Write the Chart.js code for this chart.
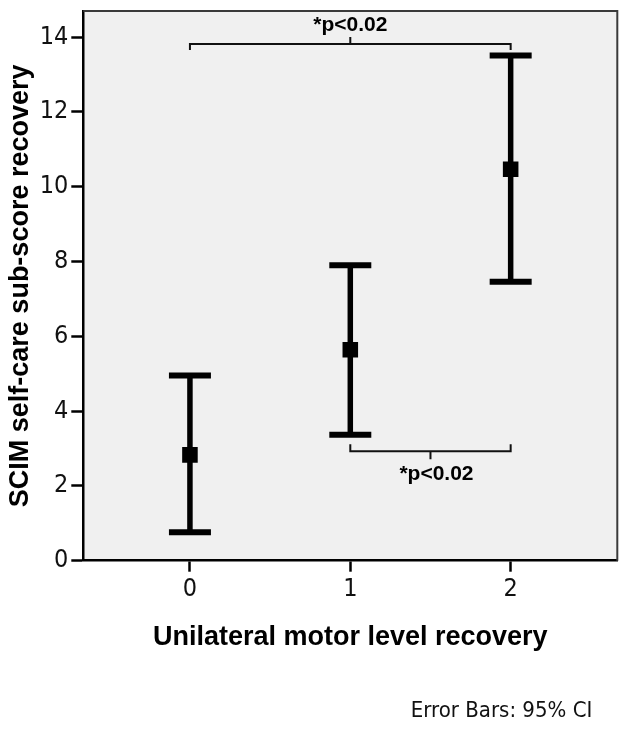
<!DOCTYPE html>
<html>
<head>
<meta charset="utf-8">
<script src="https://cdn.jsdelivr.net/npm/chart.js@4"></script>
<style>
  html, body { margin: 0; padding: 0; background: #fff; }
  #wrap { width: 639px; height: 733px; }
</style>
</head>
<body>
<div id="wrap"><canvas id="chart" width="639" height="733"></canvas></div>
<script>
/* data */
const groups = [0, 1, 2];
const groupLabels = ["0", "1", "2"];
const means = [2.83, 5.64, 10.47];
const lowerCI = [0.76, 3.37, 7.46];
const upperCI = [4.95, 7.90, 13.51];
const yTicks = [0, 2, 4, 6, 8, 10, 12, 14];

/* significance brackets: from group, to group, level, label */
const bracketFrom = [0, 1];
const bracketTo = [2, 2];
const bracketLevel = [13.82, 2.93];
const bracketLabel = ["*p<0.02", "*p<0.02"];

const narrow = "'Liberation Sans Narrow', 'Arial Narrow', 'DejaVu Sans Condensed', sans-serif";
const sans = "'Liberation Sans', Arial, sans-serif";

/* plot background + top/right frame */
const frame = {
    id: "frame",
    beforeDraw(chart) {
        const { ctx, chartArea: a } = chart;
        ctx.save();
        ctx.fillStyle = "#f0f0f0";
        ctx.fillRect(a.left, a.top, a.right - a.left, a.bottom - a.top);
        ctx.restore();
    },
    afterDraw(chart) {
        const { ctx, chartArea: a } = chart;
        ctx.save();
        ctx.strokeStyle = "#3a3a3a";
        ctx.lineWidth = 2;
        ctx.beginPath();
        ctx.moveTo(a.left, a.top);
        ctx.lineTo(a.right, a.top);
        ctx.lineTo(a.right, a.bottom);
        ctx.stroke();

        ctx.fillStyle = "#111";
        ctx.font = "22px " + narrow;
        ctx.textAlign = "right";
        ctx.textBaseline = "middle";
        ctx.fillText("Error Bars: 95% CI", a.right - 25, chart.height - 22);
        ctx.restore();
    }
};

/* 95% CI whiskers */
const errorBars = {
    id: "errorBars",
    beforeDatasetsDraw(chart) {
        const { ctx, scales: { x, y } } = chart;
        ctx.save();
        ctx.strokeStyle = "#000";
        ctx.lineCap = "butt";
        groups.forEach((g, i) => {
            const px = x.getPixelForValue(g);
            const lo = y.getPixelForValue(lowerCI[i]);
            const hi = y.getPixelForValue(upperCI[i]);
            ctx.lineWidth = 5.5;
            ctx.beginPath();
            ctx.moveTo(px, lo);
            ctx.lineTo(px, hi);
            ctx.stroke();
            ctx.lineWidth = 6;
            ctx.beginPath();
            ctx.moveTo(px - 21, lo); ctx.lineTo(px + 21, lo);
            ctx.moveTo(px - 21, hi); ctx.lineTo(px + 21, hi);
            ctx.stroke();
        });
        ctx.restore();
    }
};

/* brackets with p-value labels */
const brackets = {
    id: "brackets",
    afterDatasetsDraw(chart) {
        const { ctx, scales: { x, y } } = chart;
        ctx.save();
        ctx.strokeStyle = "#111";
        ctx.lineWidth = 2;
        ctx.fillStyle = "#000";
        ctx.font = "bold 21px " + sans;
        ctx.textAlign = "center";
        ctx.textBaseline = "alphabetic";
        bracketFrom.forEach((f, i) => {
            const x1 = x.getPixelForValue(f);
            const x2 = x.getPixelForValue(bracketTo[i]);
            const py = y.getPixelForValue(bracketLevel[i]);
            const xm = (x1 + x2) / 2;
            // top bracket opens down, bottom bracket opens up
            const up = py < chart.chartArea.top + 100;
            const end = up ? 6 : -7;
            const mid = up ? -7 : 8;
            ctx.beginPath();
            ctx.moveTo(x1, py + end);
            ctx.lineTo(x1, py);
            ctx.lineTo(x2, py);
            ctx.lineTo(x2, py + end);
            ctx.moveTo(xm, py);
            ctx.lineTo(xm, py + mid);
            ctx.stroke();
            if (up) ctx.fillText(bracketLabel[i], xm, py - 13);
            else ctx.fillText(bracketLabel[i], xm + 6, py + 29);
        });
        ctx.restore();
    }
};

new Chart(document.getElementById("chart"), {
    type: "scatter",
    data: {
        datasets: [{
            data: groups.map((g, i) => ({ x: g, y: means[i] })),
            pointStyle: "rect",
            pointRadius: 11,
            pointBackgroundColor: "#000",
            pointBorderWidth: 0
        }]
    },
    options: {
        responsive: false,
        animation: false,
        devicePixelRatio: 1,
        events: [],
        layout: { padding: { left: 0, right: 21.7, top: 8.5, bottom: 0 } },
        plugins: { legend: { display: false }, tooltip: { enabled: false } },
        scales: {
            x: {
                type: "linear",
                min: -0.665,
                max: 2.665,
                afterBuildTicks: s => { s.ticks = groups.map(v => ({ value: v })); },
                afterFit: s => { s.height = 172.3; s.paddingLeft = 0; s.paddingRight = 0; },
                ticks: {
                    callback: (v, i) => groupLabels[i],
                    font: { family: narrow, size: 25 },
                    color: "#111",
                    padding: 3,
                    maxRotation: 0
                },
                grid: { drawOnChartArea: false, drawTicks: true, tickLength: 11, tickColor: "#000", tickWidth: 2.5 },
                border: { display: true, color: "#000", width: 2.5 },
                title: {
                    display: true,
                    text: "Unilateral motor level recovery",
                    font: { family: sans, size: 27, weight: "bold", lineHeight: 1 },
                    color: "#000",
                    padding: { top: 0, bottom: 82 }
                }
            },
            y: {
                min: 0,
                max: 14.7,
                afterBuildTicks: s => { s.ticks = yTicks.map(v => ({ value: v })); },
                afterFit: s => { s.width = 83.3; s.paddingTop = 0; s.paddingBottom = 0; },
                ticks: {
                    font: { family: narrow, size: 25 },
                    color: "#111",
                    padding: 3
                },
                grid: { drawOnChartArea: false, drawTicks: true, tickLength: 12, tickColor: "#000", tickWidth: 2.5 },
                border: { display: true, color: "#000", width: 2.5 },
                title: {
                    display: true,
                    text: "SCIM self-care sub-score recovery",
                    font: { family: sans, size: 27, weight: "bold", lineHeight: 1 },
                    color: "#000",
                    padding: { top: 7, bottom: 0 }
                }
            }
        }
    },
    plugins: [frame, errorBars, brackets]
});
</script>
</body>
</html>
